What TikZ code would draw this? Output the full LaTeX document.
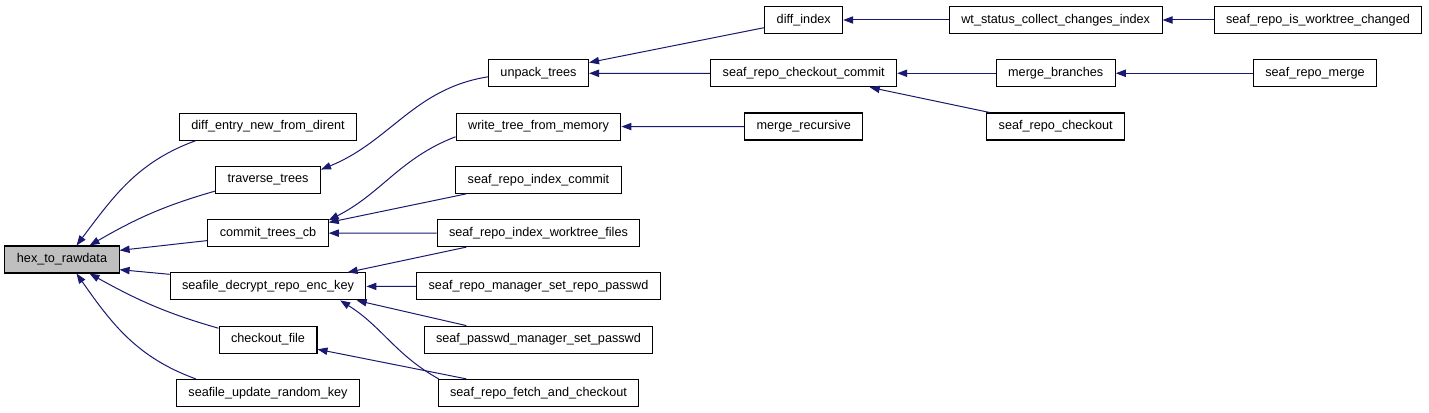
\documentclass[tikz,border=0pt]{standalone}
\usepackage{fontspec}
\setmainfont{Liberation Sans}
\usetikzlibrary{arrows.meta,positioning}
\definecolor{ec}{RGB}{25,25,112}
\definecolor{hc}{RGB}{191,191,191}
\tikzset{fn/.style={draw,line width=.8pt,minimum height=20.25pt,inner xsep=9pt,inner ysep=0pt,font=\fontsize{9.5}{11}\selectfont},
 cur/.style={fn,fill=hc},
 arr/.style={-{Triangle[length=7.5pt,width=5.5pt]},color=ec,line width=.75pt}}
\begin{document}
\begin{tikzpicture}[x=.75pt,y=-.75pt,node distance=18.9pt]
\useasboundingbox (0,0) rectangle (1429,413);
\node[cur] (hex) at (62,259.5) {hex\_to\_rawdata};
% callers of hex_to_rawdata
\node[fn] (dent) at (268,126.6) {diff\_entry\_new\_from\_dirent};
\node[fn,below=of dent] (trav) {traverse\_trees};
\node[fn,below=of trav] (ctc) {commit\_trees\_cb};
\node[fn,below=of ctc] (sdrek) {seafile\_decrypt\_repo\_enc\_key};
\node[fn,below=of sdrek] (cf) {checkout\_file};
\node[fn,below=of cf] (surk) {seafile\_update\_random\_key};
% next level
\node[fn] (unp) at (538.5,73.3) {unpack\_trees};
\node[fn,below=of unp] (wtfm) {write\_tree\_from\_memory};
\node[fn,below=of wtfm] (sric) {seaf\_repo\_index\_commit};
\node[fn,below=of sric] (sriwf) {seaf\_repo\_index\_worktree\_files};
\node[fn,below=of sriwf] (srmsrp) {seaf\_repo\_manager\_set\_repo\_passwd};
\node[fn,below=of srmsrp] (spmsp) {seaf\_passwd\_manager\_set\_passwd};
\node[fn,below=of spmsp] (srfac) {seaf\_repo\_fetch\_and\_checkout};
\node[fn] (didx) at (803.7,20) {diff\_index};
\node[fn,below=of didx] (srcc) {seaf\_repo\_checkout\_commit};
\node[fn,below=of srcc] (mr) {merge\_recursive};
\node[fn] (wt) at (1055.7,20) {wt\_status\_collect\_changes\_index};
\node[fn,below=of wt] (mb) {merge\_branches};
\node[fn,below=of mb] (src) {seaf\_repo\_checkout};
\node[fn] (srisw) at (1318,20) {seaf\_repo\_is\_worktree\_changed};
\node[fn,below=of srisw,xshift=-2.25pt] (srm) {seaf\_repo\_merge};
% edges
\draw[arr] (dent.191) to[out=200,in=53] (hex.44);
\draw[arr] (trav.192) to[out=196,in=30] (hex.27);
\draw[arr] (ctc.187)--(hex.9);\draw[arr] (sdrek.173)--(hex.-10);
\draw[arr] (cf.167) to[out=164,in=-29] (hex.-27);
\draw[arr] (surk.169) to[out=160,in=-55] (hex.-44);
\draw[arr] (unp.184) to[out=189,in=22] (trav.11);
\draw[arr] (wtfm.187) to[out=201,in=27] (ctc.12);
\draw[arr] (sric.191)--(ctc.10);\draw[arr] (sriwf.west)--(ctc.east);
\draw[arr] (sriwf.191)--(sdrek.10);\draw[arr] (srmsrp.west)--(sdrek.east);
\draw[arr] (spmsp.169)--(sdrek.-9);
\draw[arr] (srfac.172) to[out=151,in=-32] (sdrek.-11);
\draw[arr] (srfac.169)--(cf.-11);
\draw[arr] (didx.191)--(unp.12);\draw[arr] (srcc.west)--(unp.east);
\draw[arr] (mr.west)--(wtfm.east);\draw[arr] (wt.west)--(didx.east);
\draw[arr] (mb.west)--(srcc.east);\draw[arr] (src.168)--(srcc.-12);
\draw[arr] (srisw.west)--(wt.east);\draw[arr] (srm.west)--(mb.east);
\end{tikzpicture}
\end{document}
